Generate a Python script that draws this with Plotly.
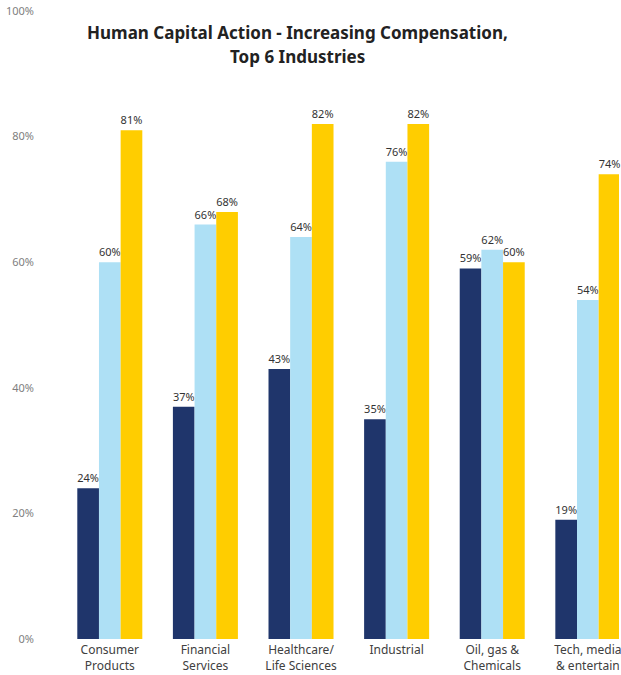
import plotly.graph_objects as go

categories = ["Consumer<br>Products", "Financial<br>Services", "Healthcare/<br>Life Sciences",
              "Industrial", "Oil, gas &<br>Chemicals", "Tech, media<br>& entertain"]
series_a = [24, 37, 43, 35, 59, 19]
series_b = [60, 66, 64, 76, 62, 54]
series_c = [81, 68, 82, 82, 60, 74]
colors = ["#1F356B", "#AEE0F5", "#FFCD00"]
y_ticks = [0, 20, 40, 60, 80, 100]
y_tick_text = ["0%", "20%", "40%", "60%", "80%", "100%"]
title_lines = ["Human Capital Action - Increasing Compensation,", "Top 6 Industries"]

FONT = "Noto Sans"
fig = go.Figure()
for vals, col in zip([series_a, series_b, series_c], colors):
    fig.add_trace(go.Bar(
        x=categories, y=vals, marker=dict(color=col, line=dict(width=0)),
        text=[f"{v}%" for v in vals], textposition="outside", textangle=0,
        constraintext="none", cliponaxis=False,
        textfont=dict(family=FONT, size=11, color="#333333"),
        showlegend=False,
    ))

for line, yy in zip(title_lines, [(639 - 32) / 628, (639 - 57) / 628]):
    fig.add_annotation(
        text=f"<b>{line}</b>", x=(298 - 62) / 559, y=yy, xref="paper", yref="paper",
        xanchor="center", yanchor="middle", showarrow=False,
        font=dict(family=FONT, size=17, color="#222222"),
    )

fig.update_layout(
    width=621, height=675,
    barmode="group", bargap=0.32, bargroupgap=0,
    plot_bgcolor="white", paper_bgcolor="white",
    margin=dict(l=62, r=0, t=11, b=36),
    xaxis=dict(range=[-0.5, 5.326], showgrid=False, showline=False, zeroline=False,
               ticklabelstandoff=2,
               tickfont=dict(family=FONT, size=12, color="#404040"), ticks=""),
    yaxis=dict(range=[0, 100], tickvals=y_ticks, ticktext=y_tick_text,
               showgrid=False, showline=False, zeroline=False, ticks="",
               ticklabelstandoff=27,
               tickfont=dict(family=FONT, size=11, color="#808080")),
)
fig.write_html("out.html", config={"displayModeBar": False},
               post_script="document.body.style.margin='0';document.body.style.overflow='hidden';")
